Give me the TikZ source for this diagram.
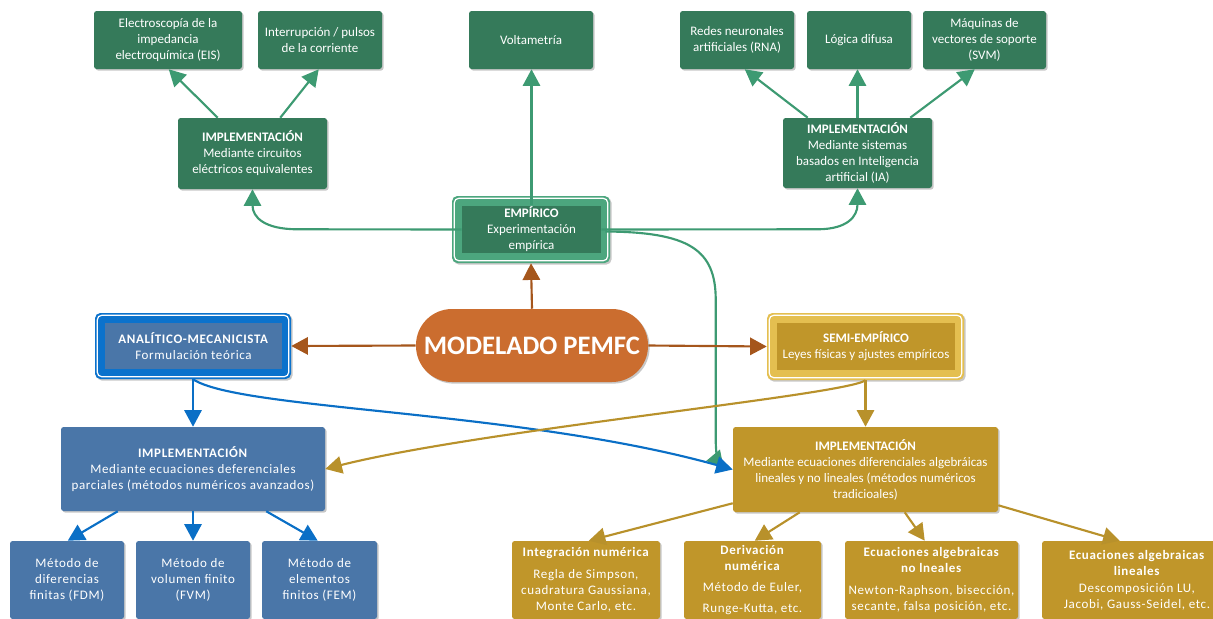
\documentclass[tikz,border=0pt]{standalone}
\usepackage{fontspec}
\setmainfont{Carlito}
\newfontfamily\spaced{Carlito}[LetterSpace=5]
\usetikzlibrary{arrows.meta,calc,shadows}

\definecolor{grbox}{HTML}{357A5A}
\definecolor{grline}{HTML}{3D9A72}
\definecolor{grlight}{HTML}{4CA67E}
\definecolor{blbox}{HTML}{4A76A8}
\definecolor{blbright}{HTML}{0B72CC}
\definecolor{blline}{HTML}{0A6FC6}
\definecolor{orpill}{HTML}{CB6D2F}
\definecolor{brline}{HTML}{A5561C}
\definecolor{gdbox}{HTML}{C0962A}
\definecolor{gdlight}{HTML}{E4BF50}
\definecolor{gdline}{HTML}{B8912B}

\tikzset{
  sz/.style 2 args={minimum width=#1*0.75pt, minimum height=#2*0.75pt},
  shad/.style={drop shadow={shadow xshift=1.2pt, shadow yshift=-1.2pt, opacity=0.22, fill=black}},
  box/.style={rectangle, rounded corners=2pt, text=white, align=center, inner sep=1pt,
              font=\fontsize{9.75}{12}\selectfont, shad},
  gbox/.style={box, fill=grbox},
  bbox/.style={box, fill=blbox, font=\fontsize{9.75}{12}\spaced},
  ybox/.style={box, fill=gdbox},
  ysbox/.style={box, fill=gdbox, font=\fontsize{9.75}{12}\spaced},
  innerbox/.style={rectangle, text=white, align=center, inner sep=1pt},
  frameline/.style={draw=white, line width=0.9pt, rounded corners=3.5pt},
  conn/.style={line width=1.6pt, -{Triangle[length=12.5pt,width=13pt]}},
  gconn/.style={conn, draw=grline},
  bconn/.style={conn, draw=blline},
  oconn/.style={conn, draw=brline},
  yconn/.style={conn, draw=gdline},
}

\begin{document}
\begin{tikzpicture}[x=0.75pt, y=-0.75pt]
\useasboundingbox (0,0) rectangle (1213,618);
\clip (0,0) rectangle (1213,618);

% ---------- top row: experimental techniques and AI methods ----------
\node[gbox, sz={148}{58}] (eis) at (168,40) {Electroscopía de la\\impedancia\\electroquímica (EIS)};
\node[gbox, sz={124}{58}] (intr) at (320,40) {Interrupción / pulsos\\de la corriente};
\node[gbox, sz={124}{58}] (volt) at (531,40) {Voltametría};
\node[gbox, sz={114}{58}] (rna) at (737,40) {Redes neuronales\\artificiales (RNA)};
\node[gbox, sz={104}{58}] (logica) at (859,40) {Lógica difusa};
\node[gbox, sz={123}{58}] (svm) at (984.5,40) {Máquinas de\\vectores de soporte\\(SVM)};

% ---------- empirical implementations ----------
\node[gbox, sz={149}{71}] (implC) at (252.5,153.5) {\textbf{IMPLEMENTACIÓN}\\Mediante circuitos\\eléctricos equivalentes};
\node[gbox, sz={149}{70}] (implIA) at (857.5,153) {\textbf{IMPLEMENTACIÓN}\\Mediante sistemas\\basados en Inteligencia\\artificial (IA)};

% ---------- empirical branch ----------
\node[rectangle, rounded corners=4pt, fill=grlight, sz={158}{67}, shad] (empO) at (531,229.5) {};
\draw[frameline] ($(empO.north west)+(2.5,2.5)$) rectangle ($(empO.south east)+(-2.5,-2.5)$);
\node[innerbox, fill=grbox, sz={139}{47}, font=\fontsize{9.75}{12}\selectfont] (empI) at (531.5,229.5) {\textbf{EMPÍRICO}\\Experimentación\\empírica};

% ---------- central node ----------
\node[rectangle, rounded corners=27pt, fill=orpill, sz={232}{73}, text=white, shad,
      font=\fontsize{20}{24}\selectfont\bfseries] (pill) at (532,345.5) {MODELADO PEMFC};

% ---------- analytical branch ----------
\node[rectangle, rounded corners=4pt, fill=blbright, sz={196}{66}, shad] (anaO) at (193,346) {};
\draw[frameline] ($(anaO.north west)+(2.5,2.5)$) rectangle ($(anaO.south east)+(-2.5,-2.5)$);
\node[innerbox, fill=blbox, sz={177}{46}, font=\fontsize{9.75}{12}\spaced] (anaI) at (193.5,346) {\textbf{ANALÍTICO-MECANICISTA}\\Formulación teórica};

% ---------- semi-empirical branch ----------
\node[rectangle, rounded corners=4pt, fill=gdlight, sz={197}{67}, shad] (semiO) at (865.5,346.5) {};
\draw[frameline] ($(semiO.north west)+(2.5,2.5)$) rectangle ($(semiO.south east)+(-2.5,-2.5)$);
\node[innerbox, fill=gdbox, sz={178}{47}, font=\fontsize{9.75}{12}\selectfont] (semiI) at (866,346.5) {\textbf{SEMI-EMPÍRICO}\\Leyes físicas y ajustes empíricos};

% ---------- numerical implementations ----------
\node[bbox, sz={264}{84}] (blImp) at (193,469) {\textbf{IMPLEMENTACIÓN}\\Mediante ecuaciones deferenciales\\parciales (métodos numéricos avanzados)};
\node[ybox, sz={265}{85}] (ydImp) at (865.5,469.5) {\textbf{IMPLEMENTACIÓN}\\Mediante ecuaciones diferenciales algebráicas\\lineales y no lineales (métodos numéricos\\tradicioales)};

% ---------- bottom row: PDE methods ----------
\node[bbox, sz={114}{78}] (fdm) at (67,580) {Método de\\diferencias\\finitas (FDM)};
\node[bbox, sz={114}{78}] (fvm) at (193,580) {Método de\\volumen finito\\(FVM)};
\node[bbox, sz={115}{78}] (fem) at (319.5,580) {Método de\\elementos\\finitos (FEM)};

% ---------- bottom row: classical numerical methods ----------
\node[ysbox, sz={148}{78}] (integ) at (586,580) {\textbf{Integración numérica}\\[4.5pt]Regla de Simpson,\\cuadratura Gaussiana,\\Monte Carlo, etc.};
\node[ysbox, sz={137}{78}] (deriv) at (752.5,580) {\textbf{Derivación}\\\textbf{numérica}\\[3.75pt]Método de Euler,\\[3.75pt]Runge-Kutta, etc.};
\node[ysbox, sz={173}{78}] (nolin) at (931.5,580) {\textbf{Ecuaciones algebraicas}\\\textbf{no lneales}\\[4pt]Newton-Raphson, bisección,\\secante, falsa posición, etc.};
\node[ysbox, sz={190}{78}] (lin) at (1137,580) {\textbf{Ecuaciones algebraicas}\\\textbf{lineales}\\[1pt]Descomposición LU,\\Jacobi, Gauss-Seidel, etc.};

% ---------- connectors: empirical ----------
\draw[gconn] ($(implC.north west)+(40,0)$) -- ($(eis.south west)+(75,0)$);
\draw[gconn] ($(implC.north east)+(-47,0)$) -- ($(intr.south west)+(61,0)$);
\draw[gconn] (empI.north) -- (empI.north |- volt.south);
\draw[gconn] ($(implIA.north west)+(25,0)$) -- ($(rna.south west)+(65,0)$);
\draw[gconn] (implIA.north) -- (implIA.north |- logica.south);
\draw[gconn] ($(implIA.north east)+(-22,0)$) -- ($(svm.south west)+(52,0)$);
\draw[gconn] (empI.west) -- ($(implC.south)+(45,40)$)
   .. controls ($(implC.south)+(12,40)$) and ($(implC.south)+(0,28)$) .. (implC.south);
\draw[gconn] (empI.east) -- ($(implIA.south)+(-40,41)$)
   .. controls ($(implIA.south)+(-10,41)$) and ($(implIA.south)+(0,28)$) .. (implIA.south);
\draw[gconn] ($(empI.east)+(4,2)$)
   .. controls ($(ydImp.west)+(-43,-237.5)$) and ($(ydImp.west)+(-17,-219.5)$) .. ($(ydImp.west)+(-17,-169.5)$)
   -- ($(ydImp.west)+(-17,-29.5)$)
   .. controls ($(ydImp.west)+(-17,-14.5)$) and ($(ydImp.west)+(-14,-7.5)$) .. ($(ydImp.west)+(-9,-1.5)$);

% ---------- connectors: central node ----------
\draw[oconn] (pill.north) -- (empO.south);
\draw[oconn] (pill.west) -- (anaO.east);
\draw[oconn] (pill.east) -- (semiO.west);

% ---------- connectors: analytical ----------
\draw[bconn] (anaO.south) -- (blImp.north);
\draw[bconn] (anaO.south) .. controls ($(anaO.south)+(47,31)$) and ($(ydImp.west)+(-213,-59.5)$) .. (ydImp.west);
\draw[bconn] ($(blImp.south west)+(57,0)$) -- ($(fdm.north west)+(58,0)$);
\draw[bconn] (blImp.south) -- (fvm.north);
\draw[bconn] ($(blImp.south east)+(-59,0)$) -- ($(fem.north west)+(56,0)$);

% ---------- connectors: semi-empirical ----------
\draw[yconn] (semiO.south) -- (ydImp.north);
\draw[yconn] (semiO.south) .. controls ($(semiO.south)+(-20.5,15)$) and ($(blImp.east)+(155,-39)$) .. (blImp.east);
\draw[yconn] ($(ydImp.south west)+(0,-9)$) -- ($(integ.north west)+(77,0)$);
\draw[yconn] ($(ydImp.south west)+(67,0)$) -- ($(deriv.north west)+(71,0)$);
\draw[yconn] ($(ydImp.south west)+(172,0)$) -- ($(nolin.north west)+(80,0)$);
\draw[yconn] ($(ydImp.south east)+(0,-7)$) -- ($(lin.north west)+(78,0)$);
\end{tikzpicture}
\end{document}
